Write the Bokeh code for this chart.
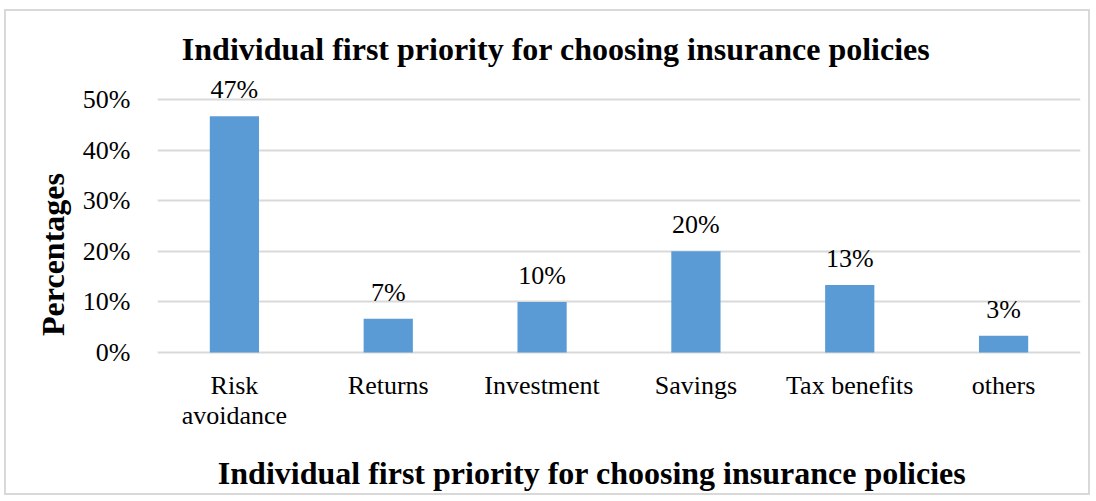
from bokeh.plotting import figure
from bokeh.models import ColumnDataSource, FactorRange, Range1d, LabelSet, NumeralTickFormatter, FixedTicker
from bokeh.embed import file_html
from bokeh.resources import INLINE

categories = ["Risk avoidance", "Returns", "Investment", "Savings", "Tax benefits", "others"]
category_lines = [["Risk", "avoidance"], ["Returns"], ["Investment"], ["Savings"], ["Tax benefits"], ["others"]]
values = [0.4667, 0.0667, 0.10, 0.20, 0.1333, 0.0333]
label_texts = ["47%", "7%", "10%", "20%", "13%", "3%"]
y_ticks = [0.0, 0.1, 0.2, 0.3, 0.4, 0.5]
title_text = "Individual first priority for choosing insurance policies"
y_title = "Percentages"

FONT = "Liberation Serif"
BAR = "#5b9bd5"
GRID = "#d9d9d9"

W, H = 1086, 486
FRAME_L, FRAME_R = 151, 1074
ZERO_Y = 341          # pixel row of 0% inside the figure
PX_PER_UNIT = 506.0   # pixels per 100%

y_end = ZERO_Y / PX_PER_UNIT
y_start = -(H - ZERO_Y) / PX_PER_UNIT

def to_y(px):
    return (ZERO_Y - px) / PX_PER_UNIT

src = ColumnDataSource(dict(cat=categories, val=values, lab=label_texts))

p = figure(width=W, height=H, output_backend="svg", toolbar_location=None,
           x_range=FactorRange(*categories, range_padding=0),
           y_range=Range1d(y_start, y_end),
           min_border_left=FRAME_L, min_border_right=W - FRAME_R,
           min_border_top=0, min_border_bottom=0)
p.outline_line_color = None
p.background_fill_color = "white"
p.border_fill_color = "white"
p.styles = {"border": "2px solid #d9d9d9", "margin-left": "4px", "margin-top": "9px"}

p.vbar(x="cat", top="val", width=0.32, bottom=0, source=src, color=BAR, line_color=None)

# value labels above bars
p.add_layout(LabelSet(x="cat", y="val", text="lab", source=src, text_align="center",
                      text_baseline="alphabetic", y_offset=18, text_font=FONT,
                      text_font_size="26px", text_color="black"))

# category labels (possibly two lines)
xs, ys, ts = [], [], []
for cat, lines in zip(categories, category_lines):
    for i, ln in enumerate(lines):
        xs.append(cat)
        ys.append(to_y(382 + 30 * i))
        ts.append(ln)
p.add_layout(LabelSet(x="x", y="y", text="t", source=ColumnDataSource(dict(x=xs, y=ys, t=ts)),
                      text_align="center", text_baseline="alphabetic", text_font=FONT,
                      text_font_size="26px", text_color="black"))

# titles (top and bottom)
tsrc = ColumnDataSource(dict(x=[categories[2], categories[2]], y=[to_y(48), to_y(472)],
                             t=[title_text, title_text], xo=[14, 50]))
p.add_layout(LabelSet(x="x", y="y", text="t", x_offset="xo", source=tsrc,
                      text_align="center", text_baseline="alphabetic", text_font=FONT,
                      text_font_size="32px", text_font_style="bold", text_color="black"))

p.ygrid.ticker = FixedTicker(ticks=y_ticks)
p.ygrid.grid_line_color = GRID
p.ygrid.grid_line_width = 2
p.xgrid.grid_line_color = None
p.xaxis.visible = False

p.yaxis.ticker = FixedTicker(ticks=y_ticks)
p.yaxis.formatter = NumeralTickFormatter(format="0%")
p.yaxis.axis_line_color = None
p.yaxis.major_tick_line_color = None
p.yaxis.minor_tick_line_color = None
p.yaxis.major_label_text_font = FONT
p.yaxis.major_label_text_font_size = "26px"
p.yaxis.major_label_text_color = "black"
p.yaxis.major_label_standoff = 21
p.yaxis.axis_label = y_title
p.yaxis.axis_label_text_font = FONT
p.yaxis.axis_label_text_font_size = "32px"
p.yaxis.axis_label_text_font_style = "bold"
p.yaxis.axis_label_text_color = "black"
p.yaxis.axis_label_standoff = 9

open("out.html", "w").write(file_html(p, INLINE))
